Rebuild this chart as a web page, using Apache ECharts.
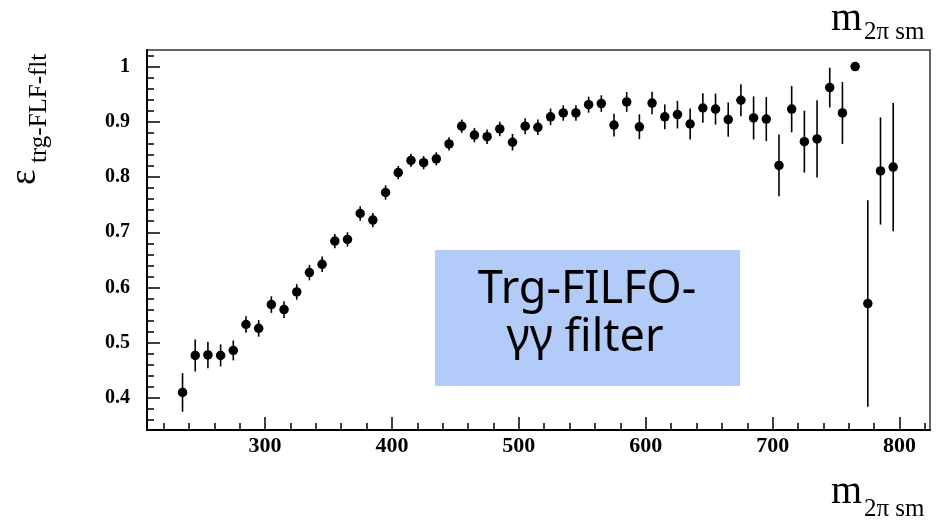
<!DOCTYPE html>
<html>
<head>
<meta charset="utf-8">
<script src="https://cdn.jsdelivr.net/npm/echarts@6/dist/echarts.min.js"></script>
<style>html,body{margin:0;padding:0;background:#fff;}#c{width:947px;height:523px;}</style>
</head>
<body>
<div id="c"></div>
<script>
const mass = [235,245,255,265,275,285,295,305,315,325,335,345,355,365,375,385,395,405,415,425,435,445,455,
  465,475,485,495,505,515,525,535,545,555,565,575,585,595,605,615,625,635,
  645,655,665,675,685,695,705,715,725,735,745,755,765,775,785,795];
const eff = [0.410,0.477,0.478,0.477,0.486,0.533,0.526,0.569,0.560,0.592,0.627,0.642,0.684,0.687,0.734,0.722,0.772,0.808,0.830,0.826,0.833,0.860,0.892,
  0.876,0.873,0.887,0.863,0.892,0.890,0.909,0.916,0.916,0.931,0.933,0.894,0.936,0.891,0.934,0.909,0.913,0.896,
  0.925,0.923,0.904,0.939,0.907,0.905,0.821,0.923,0.864,0.869,0.962,0.916,1.000,0.571,0.811,0.818];
const err = [0.035,0.029,0.024,0.020,0.018,0.015,0.015,0.015,0.015,0.014,0.014,0.014,0.013,0.013,0.013,0.013,0.013,0.012,0.012,0.012,0.012,0.012,0.012,
  0.013,0.013,0.013,0.015,0.0145,0.014,0.015,0.014,0.014,0.0145,0.015,0.0205,0.018,0.0225,0.0205,0.0225,0.025,0.028,
  0.0265,0.028,0.031,0.029,0.039,0.040,0.056,0.042,0.056,0.070,0.036,0.056,0,0.187,0.097,0.116];
const xMajor = [300,400,500,600,700,800];
const xMinor = [220,240,260,280,320,340,360,380,420,440,460,480,520,540,560,580,620,640,660,680,720,740,760,780,820];
const yMajor = [0.4,0.5,0.6,0.7,0.8,0.9,1.0];
const yMinor = [0.36,0.38,0.42,0.44,0.46,0.48,0.52,0.54,0.56,0.58,0.62,0.64,0.66,0.68,0.72,0.74,0.76,0.78,0.82,0.84,0.86,0.88,0.92,0.94,0.96,0.98,1.02];
const boxLines = ['Trg-FILFO-', 'γγ filter'];

const pts = mass.map((m,i)=>[m, eff[i], err[i]]);
const chart = echarts.init(document.getElementById('c'), null, {renderer:'canvas'});
const serif = 'Liberation Serif, Times New Roman, serif';
const comic = 'Comic Sans MS, Noto Sans, sans-serif';
function xAx(major){
  return {type:'value', min:207, max:824, position:'bottom', gridIndex:0,
    axisLine:{show:major, onZero:false, lineStyle:{color:'#000', width:2}},
    axisTick:{show:true, inside:true, length: major?13:7, customValues: major?xMajor:xMinor, lineStyle:{color:'#000', width:1.5}},
    axisLabel:{show:major, customValues:xMajor, margin:5, fontFamily:serif, fontWeight:'bold', fontSize:22, color:'#000'},
    splitLine:{show:false}};
}
function yAx(major){
  return {type:'value', min:0.342, max:1.03, position:'left', gridIndex:0,
    axisLine:{show:major, onZero:false, lineStyle:{color:'#000', width:2}},
    axisTick:{show:true, inside:true, length: major?13:7, customValues: major?yMajor:yMinor, lineStyle:{color:'#000', width:1.5}},
    axisLabel:{show:major, customValues:yMajor, margin:17, fontFamily:serif, fontWeight:'bold', fontSize:20, color:'#000',
      formatter: v => String(+(+v).toFixed(1))},
    splitLine:{show:false}};
}
function txt(x, y, s, font, size, align){
  return {type:'text', x:x, y:y, style:{text:s, fontFamily:font, fontSize:size, fill:'#000', textAlign:align||'left', textVerticalAlign:'top'}, z:2};
}
chart.setOption({
  animation:false,
  backgroundColor:'#fff',
  grid:{left:147, right:17, top:50, bottom:93, show:true, borderColor:'#333', borderWidth:1.5, backgroundColor:'transparent'},
  xAxis:[xAx(true), xAx(false)],
  yAxis:[yAx(true), yAx(false)],
  graphic:[
    {type:'rect', shape:{x:435, y:250, width:305, height:136}, style:{fill:'#b3cbf9'}, z:1},
    txt(587, 268, boxLines[0], comic, 45, 'center'),
    txt(585, 316, boxLines[1], comic, 45, 'center'),
    {type:'group', x:37, y:185, rotation:Math.PI/2, children:[
      txt(0, -30, 'ε', serif, 37),
      txt(22, -10.5, 'trg-FLF-flt', serif, 25)
    ]},
    txt(831, -1, 'm', serif, 40),
    txt(864, 19.5, '2π sm', serif, 25),
    txt(831, 472, 'm', serif, 40),
    txt(864, 496.5, '2π sm', serif, 25)
  ],
  series:[
    {type:'custom', xAxisIndex:0, yAxisIndex:0, data:pts, encode:{x:0, y:1}, z:3,
      renderItem:(params, api)=>{
        const x=api.value(0), y=api.value(1), e=api.value(2);
        const p1=api.coord([x, y-e]), p2=api.coord([x, y+e]);
        return {type:'line', shape:{x1:p1[0], y1:p1[1], x2:p2[0], y2:p2[1]}, style:{stroke:'#000', lineWidth:1.6}};
      }},
    {type:'scatter', xAxisIndex:0, yAxisIndex:0, data:pts.map(p=>[p[0],p[1]]), symbol:'circle', symbolSize:9.5, itemStyle:{color:'#000', opacity:1}, z:4}
  ]
});
</script>
</body>
</html>
